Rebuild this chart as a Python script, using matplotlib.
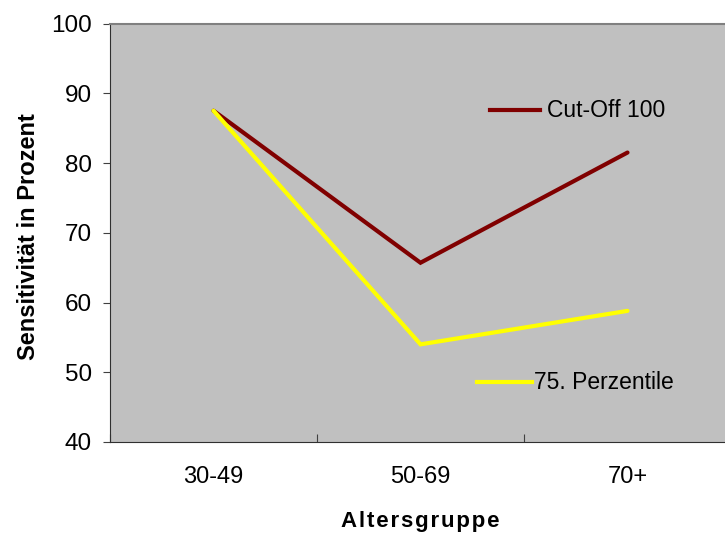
import matplotlib
matplotlib.use('Agg')
import matplotlib.pyplot as plt
from matplotlib.lines import Line2D

# data
groups = ['30-49', '50-69', '70+']
cutoff_100 = [87.5, 65.7, 81.5]
perzentile_75 = [87.5, 54.0, 58.8]

plt.rcParams['font.family'] = ['Liberation Sans', 'DejaVu Sans']

fig = plt.figure(figsize=(7.25, 5.36), dpi=100)
ax = fig.add_axes([110 / 725, 94 / 536, 621 / 725, 418.5 / 536])
ax.set_facecolor('#c0c0c0')

x = [0.5, 1.5, 2.5]
ax.plot(x, cutoff_100, color='#800000', lw=3, solid_capstyle='round', solid_joinstyle='miter')
ax.plot(x, perzentile_75, color='#ffff00', lw=3, solid_capstyle='round', solid_joinstyle='miter')

ax.set_xlim(0, 3)
ax.set_ylim(40, 100)
ax.set_yticks(range(40, 101, 10))
ax.set_xticks([0, 1, 2, 3])
ax.set_xticklabels([])
ax.set_xticks(x, minor=True)
ax.set_xticklabels(groups, minor=True)
ax.tick_params(axis='x', which='minor', length=0, pad=17, labelsize=17)
ax.tick_params(axis='x', which='major', length=6, direction='in', color='#404040')
ax.tick_params(axis='y', length=5, direction='out', pad=8, labelsize=17.5, color='#404040')

for s in ['left', 'bottom']:
    ax.spines[s].set_color('#303030')
ax.spines['top'].set_color('#808080')
ax.spines['top'].set_linewidth(1.5)
ax.spines['right'].set_visible(False)

ax.set_ylabel('Sensitivität in Prozent', fontsize=17, fontweight='bold', va='center')
ax.yaxis.set_label_coords(-0.132, 0.49)
ax.set_xlabel('A l t e r s g r u p p e'.replace(' ', '\u200a'), fontsize=16,
              fontweight='bold', va='center')
ax.xaxis.set_label_coords(0.5, -0.189)

# the legend entries sit separately inside the plot
ax.add_line(Line2D([0.612, 0.692], [0.793, 0.793], transform=ax.transAxes,
                   color='#800000', lw=3))
ax.text(0.703, 0.793, 'Cut-Off 100', transform=ax.transAxes, fontsize=16.5, va='center')
ax.add_line(Line2D([0.591, 0.680], [0.143, 0.143], transform=ax.transAxes,
                   color='#ffff00', lw=3))
ax.text(0.683, 0.143, '75. Perzentile', transform=ax.transAxes, fontsize=16.5, va='center')

fig.savefig('out.png', dpi=100)
